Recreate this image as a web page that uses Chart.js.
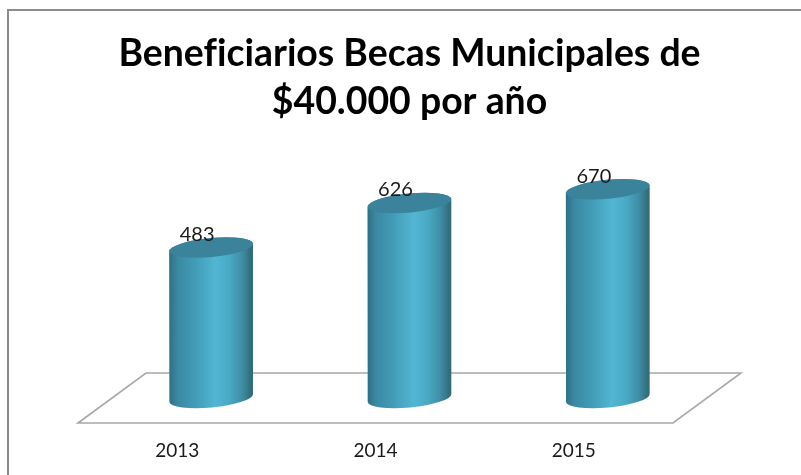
<!DOCTYPE html>
<html>
<head>
<meta charset="utf-8">
<style>html,body{margin:0;padding:0;background:#fff}canvas{display:block}</style>
<script src="https://cdn.jsdelivr.net/npm/chart.js@4"></script>
</head>
<body>
<canvas id="c" width="801" height="475"></canvas>
<script>
const years = ['2013', '2014', '2015'];
const beneficiarios = [483, 626, 670];
const titleLines = ['Beneficiarios Becas Municipales de', '$40.000 por año'];

const cylinders = {
  id: 'cylinders',
  beforeDraw(chart) {
    chart.ctx.textRendering = 'optimizeSpeed';
  },
  beforeDatasetsDraw(chart) {
    const { ctx, scales: { x, y } } = chart;
    const base = y.getPixelForValue(0);
    const d = 25, s = 34;
    ctx.save();
    // chart frame (top and left edges)
    ctx.strokeStyle = '#8c8c8c';
    ctx.lineWidth = 2;
    ctx.beginPath();
    ctx.moveTo(8, 475); ctx.lineTo(8, 10); ctx.lineTo(801, 10);
    ctx.stroke();
    // floor
    ctx.strokeStyle = '#a8a8a8';
    ctx.lineWidth = 1.6;
    ctx.beginPath();
    ctx.moveTo(x.left - s, base + d);
    ctx.lineTo(x.left + s, base - d);
    ctx.lineTo(x.right + s, base - d);
    ctx.lineTo(x.right - s, base + d);
    ctx.closePath();
    ctx.stroke();
    ctx.restore();
  },
  afterDatasetsDraw(chart) {
    const { ctx } = chart;
    const meta = chart.getDatasetMeta(0);
    const rot = -0.095, ry = 9.5;
    meta.data.forEach((bar, i) => {
      const rx = bar.width / 2;
      const g = ctx.createLinearGradient(bar.x - rx, 0, bar.x + rx, 0);
      g.addColorStop(0, '#2e7085');
      g.addColorStop(0.1, '#3a89a2');
      g.addColorStop(0.3, '#429bb6');
      g.addColorStop(0.55, '#52b6d3');
      g.addColorStop(0.72, '#49a9c4');
      g.addColorStop(0.87, '#3e8da5');
      g.addColorStop(0.96, '#33717f');
      g.addColorStop(1, '#2f6875');
      ctx.save();
      ctx.fillStyle = g;
      ctx.beginPath();
      ctx.ellipse(bar.x, bar.base, rx, ry, rot, 0, Math.PI);
      ctx.lineTo(bar.x - rx, bar.y);
      ctx.ellipse(bar.x, bar.y, rx, ry, rot, Math.PI, 2 * Math.PI);
      ctx.closePath();
      ctx.fill();
      ctx.fillStyle = '#3b839b';
      ctx.beginPath();
      ctx.ellipse(bar.x, bar.y, rx, ry, rot, 0, 2 * Math.PI);
      ctx.fill();
      ctx.fillStyle = '#1a1a1a';
      ctx.font = '20px Lato';
      ctx.textAlign = 'center';
      ctx.textBaseline = 'middle';
      ctx.fillText(String(beneficiarios[i]), bar.x - 14, bar.y - 13);
      ctx.restore();
    });
  }
};

new Chart(document.getElementById('c'), {
  type: 'bar',
  data: {
    labels: years,
    datasets: [{
      data: beneficiarios,
      backgroundColor: 'rgba(0,0,0,0)',
      borderWidth: 0,
      barThickness: 84
    }]
  },
  plugins: [cylinders],
  options: {
    responsive: false,
    animation: false,
    layout: { padding: { left: 112, right: 94, top: 30, bottom: 7 } },
    plugins: {
      legend: { display: false },
      tooltip: { enabled: false },
      title: {
        display: true,
        text: titleLines,
        color: '#000',
        font: { family: 'Lato', size: 37.4, weight: 'bold', lineHeight: 1.28 },
        padding: { top: 0, bottom: 23 }
      }
    },
    scales: {
      x: {
        grid: { display: false, drawTicks: false },
        border: { display: false },
        afterFit(scale) { scale.height = 70; },
        ticks: { color: '#1a1a1a', font: { family: 'Lato', size: 19 }, padding: 41, labelOffset: -34 }
      },
      y: { display: false, min: 0, max: 800 }
    }
  }
});
</script>
</body>
</html>
